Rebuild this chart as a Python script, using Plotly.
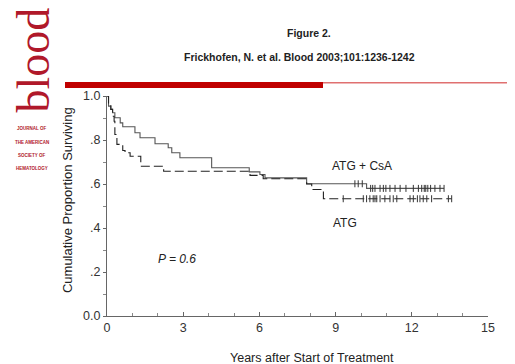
import plotly.graph_objects as go

# ---- data ----
csa_times = [0, 0.06, 0.15, 0.22, 0.31, 0.52, 0.62, 1.10, 1.30, 1.89, 2.41, 2.55, 2.87,
             4.12, 5.60, 6.02, 6.22, 7.86, 10.22, 13.27]
csa_surv = [1.0, 0.954, 0.939, 0.924, 0.901, 0.878, 0.860, 0.833, 0.810, 0.783, 0.765,
            0.742, 0.719, 0.674, 0.655, 0.643, 0.628, 0.601, 0.580, 0.580]
csa_censored = [9.76, 9.89, 10.05, 10.38, 10.46, 10.55, 10.75, 10.88, 10.98, 11.14, 11.34,
                11.54, 11.77, 12.06, 12.26, 12.39, 12.49, 12.55, 12.63, 12.74, 12.91,
                13.11, 13.27]

atg_times = [0, 0.06, 0.15, 0.22, 0.28, 0.31, 0.39, 0.62, 0.71, 0.91, 1.33, 2.23, 5.63,
             6.15, 7.86, 8.06, 8.52, 13.57]
atg_surv = [1.0, 0.961, 0.939, 0.908, 0.885, 0.825, 0.780, 0.752, 0.742, 0.726, 0.681,
            0.658, 0.639, 0.624, 0.600, 0.575, 0.533, 0.533]
atg_censored = [9.30, 10.09, 10.22, 10.35, 10.48, 10.55, 10.62, 10.75, 10.94, 11.14, 11.27,
                11.41, 11.93, 12.06, 12.22, 12.32, 12.45, 12.59, 12.78, 13.44, 13.57]

x_ticks = [0, 3, 6, 9, 12, 15]
y_ticks = [0, 0.2, 0.4, 0.6, 0.8, 1.0]
y_ticktext = ["0.0", ".2", ".4", ".6", ".8", "1.0"]


def level_at(times, surv, t):
    val = surv[0]
    for ti, si in zip(times, surv):
        if ti <= t:
            val = si
    return val


FONT = "Liberation Sans, Arial, sans-serif"
RED = "#c00000"
LOGO = "#b0182a"

fig = go.Figure()

fig.add_trace(go.Scatter(x=csa_times, y=csa_surv, mode="lines", line_shape="hv",
                         line=dict(color="#555555", width=1.1), showlegend=False,
                         hoverinfo="skip"))
fig.add_trace(go.Scatter(x=atg_times, y=atg_surv, mode="lines", line_shape="hv",
                         line=dict(color="#222222", width=1.1, dash="9px,4px"),
                         showlegend=False, hoverinfo="skip"))
fig.add_trace(go.Scatter(x=csa_censored,
                         y=[level_at(csa_times, csa_surv, t) for t in csa_censored],
                         mode="markers",
                         marker=dict(symbol="line-ns", size=5,
                                     line=dict(color="#333333", width=1)),
                         showlegend=False, hoverinfo="skip"))
fig.add_trace(go.Scatter(x=atg_censored,
                         y=[level_at(atg_times, atg_surv, t) for t in atg_censored],
                         mode="markers",
                         marker=dict(symbol="line-ns", size=5,
                                     line=dict(color="#333333", width=1)),
                         showlegend=False, hoverinfo="skip"))


def ann(x, y, text, size, ref="paper", color="#222", family=FONT, angle=0):
    return dict(x=x, y=y, xref="x" if ref == "data" else "paper",
                yref="y" if ref == "data" else "paper", text=text, showarrow=False,
                xanchor="center", yanchor="middle", textangle=angle,
                font=dict(family=family, size=size, color=color))


annotations = [
    ann(10.04, 0.68, "ATG + CsA", 12, ref="data"),
    ann(9.37, 0.424, "ATG", 12, ref="data"),
    ann(2.77, 0.257, "<i>P = 0.6</i>", 12, ref="data"),
    # axis titles
    ann(0.537, -0.19, "Years after Start of Treatment", 12.5),
    ann(-0.105, 0.527, "Cumulative Proportion Surviving", 13, angle=-90),
    # header
    ann(0.530, 1.286, "<b>Figure 2.</b>", 10.5),
    ann(0.504, 1.177, "<b>Frickhofen, N. et al. Blood 2003;101:1236-1242</b>", 10.5),
    # logo
    ann(-0.192, 1.165, "blood", 46, color=LOGO,
        family="Liberation Serif, Times New Roman, serif", angle=-90),
]
for txt, py in [("JOURNAL OF", 128), ("THE AMERICAN", 142), ("SOCIETY OF", 155),
                ("HEMATOLOGY", 168)]:
    annotations.append(ann(-0.197, (316 - py) / 220, "<b>" + txt + "</b>", 4.5, color=LOGO))

shapes = [
    dict(type="rect", xref="paper", yref="paper", x0=(65 - 107) / 381, x1=(323 - 107) / 381,
         y0=(316 - 88) / 220, y1=(316 - 82) / 220, fillcolor=RED, line=dict(width=0)),
    dict(type="line", xref="paper", yref="paper", x0=(323 - 107) / 381, x1=(520 - 107) / 381,
         y0=(316 - 82.7) / 220, y1=(316 - 82.7) / 220, line=dict(color="#e07070", width=1.5)),
]

fig.update_layout(
    width=515, height=364,
    margin=dict(l=99, r=35, t=88, b=56),
    paper_bgcolor="white", plot_bgcolor="white",
    annotations=annotations, shapes=shapes,
    xaxis=dict(range=[0, 15], tickvals=x_ticks, ticks="inside", ticklen=4,
               tickcolor="#666", showline=True, linecolor="#666", linewidth=1,
               showgrid=False, zeroline=False,
               minor=dict(dtick=1, ticks="inside", ticklen=3, tickcolor="#888"),
               tickfont=dict(family=FONT, size=12.5, color="#333")),
    yaxis=dict(range=[0, 1.0], tickvals=y_ticks, ticktext=y_ticktext, ticks="outside",
               ticklen=3, tickcolor="#666", showline=True, linecolor="#666", linewidth=1,
               showgrid=False, zeroline=False,
               minor=dict(dtick=0.1, ticks="outside", ticklen=3, tickcolor="#888"),
               tickfont=dict(family=FONT, size=12.5, color="#333")),
)

fig.write_html("out.html")
